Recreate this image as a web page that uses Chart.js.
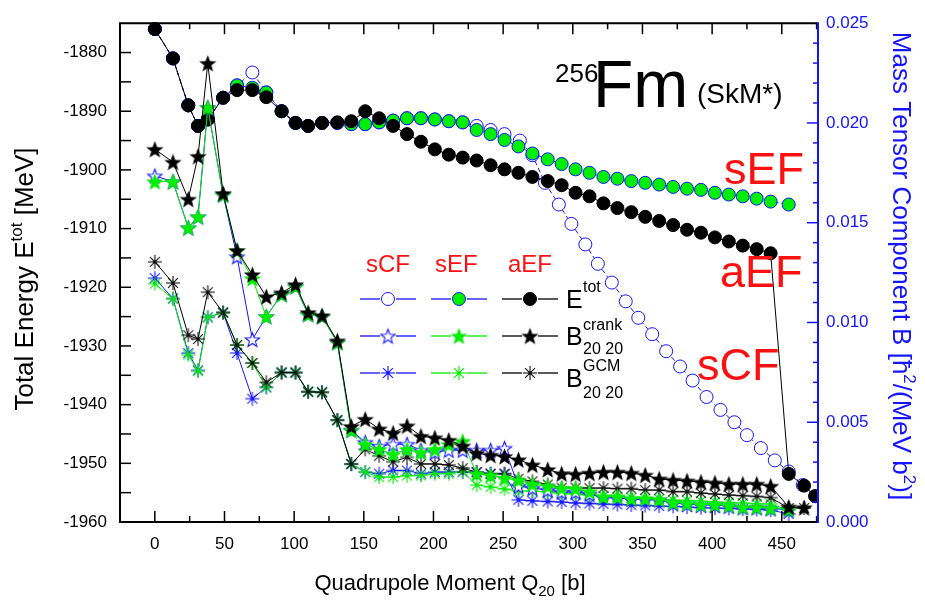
<!DOCTYPE html>
<html>
<head>
<title>256Fm total energy and mass tensor</title>
<script src="https://cdn.jsdelivr.net/npm/chart.js@4.4.0/dist/chart.umd.min.js"></script>
<style>
  body { margin: 0; background: #fff; }
  .wrapper { width: 925px; height: 607px; }
</style>
</head>
<body>
<div class="wrapper"><canvas id="myChart" width="925" height="607"></canvas></div>
<script>
// axis tick labels
var xTicks = [0, 50, 100, 150, 200, 250, 300, 350, 400, 450];
var eTicks = [-1960, -1950, -1940, -1930, -1920, -1910, -1900, -1890, -1880];
var bTicks = [0, 0.005, 0.010, 0.015, 0.020, 0.025];

// Q20 grid shared by most curves
var q = [0, 13, 24, 31, 38, 49, 59, 70, 80, 91, 101, 110, 120, 131, 141, 151, 161, 171, 181, 191,
  201, 211, 221, 231, 241, 251, 261, 271, 282, 292, 302, 312, 322, 332, 342, 352, 362, 372, 382, 392,
  402, 412, 422, 432, 442, 455, 466, 474];
// sCF total energy has a slightly denser tail
var qScf = [0, 13, 24, 31, 38, 49, 59, 70, 80, 91, 101, 110, 120, 131, 141, 151, 161, 171, 181, 191,
  201, 211, 221, 231, 241, 251, 262, 271, 280, 290, 299, 309, 318, 328, 338, 347, 357, 367, 377, 386,
  396, 406, 416, 425, 435, 445, 455, 465, 474];

// total energy [MeV] (left axis)
var eScf = [-1876, -1881, -1889, -1892.5, -1891.4, -1887.7, -1885.6, -1883.4, -1886.8, -1890,
  -1892, -1892.5, -1892, -1892, -1892.2, -1892.2, -1891.9, -1891.6, -1891.2, -1891.2,
  -1891.4, -1891.7, -1891.9, -1892.5, -1893.2, -1893.9, -1895.0, -1897.5, -1902.2, -1905.9,
  -1909.2, -1912.7, -1916.0, -1919.2, -1922.4, -1925.2, -1928.0, -1930.9, -1933.5, -1935.9,
  -1938.7, -1940.9, -1943.0, -1945.2, -1947.4, -1949.5, -1951.4, -1953.7, -1955.6];
var eSef = [-1876, -1881, -1889, -1892.5, -1891.4, -1887.7, -1885.6, -1886.0, -1886.8, -1890,
  -1892, -1892.5, -1892, -1892, -1892.2, -1892.2, -1891.9, -1891.6, -1891.2, -1891.2,
  -1891.4, -1891.7, -1891.9, -1893.2, -1893.9, -1894.9, -1896.0, -1897.2, -1898.2, -1899.0,
  -1899.9, -1900.5, -1901.2, -1901.5, -1901.9, -1902.2, -1902.5, -1902.9, -1903.2, -1903.4,
  -1903.9, -1904.2, -1904.5, -1904.9, -1905.4, -1905.9, null, null];
var eAef = [-1876, -1881, -1889, -1892.5, -1891.4, -1887.7, -1886.4, -1886.4, -1887.6, -1890,
  -1892, -1892.5, -1892, -1891.9, -1891.7, -1890, -1891.2, -1892.5, -1893.9, -1895.2,
  -1896.5, -1897.4, -1897.9, -1898.4, -1899.2, -1899.9, -1900.5, -1901.2, -1901.9, -1902.6,
  -1903.9, -1904.5, -1905.7, -1906.5, -1907.2, -1908.0, -1908.7, -1909.4, -1910.2, -1910.7,
  -1911.5, -1912.2, -1912.9, -1913.5, -1914.2, -1951.8, -1953.8, -1955.6];

// B20,20 cranking (right axis)
var bCrankScf = [0.01735, 0.01706, 0.01475, 0.0153, 0.02078, 0.0164, 0.0133, 0.00915, 0.0103, 0.0114,
  0.0118, 0.0104, 0.0103, 0.0090, 0.0046, 0.0040, 0.0038, 0.0039, 0.0039, 0.0036,
  0.0035, 0.0036, 0.0036, 0.0036, 0.0036, 0.0037, 0.0018, 0.0017, 0.0016, 0.0015,
  0.0015, 0.0014, 0.00122, 0.0012, 0.00114, 0.00112, 0.0011, 0.00095, 0.0009, 0.00085,
  0.00085, 0.0008, 0.00072, 0.00072, 0.00067, 0.00062, null, null];
var bCrankSef = [0.01706, 0.01706, 0.01475, 0.0153, 0.02078, 0.0164, 0.0136, 0.0122, 0.0103, 0.0114,
  0.0118, 0.0104, 0.0103, 0.0090, 0.0046, 0.00389, 0.00364, 0.0034, 0.00364, 0.00348,
  0.00364, 0.00389, 0.00405, 0.00242, 0.00234, 0.0022, 0.0021, 0.0019, 0.0018, 0.0017,
  0.00167, 0.00152, 0.00127, 0.00127, 0.00118, 0.00118, 0.00113, 0.00098, 0.00093, 0.00088,
  0.00088, 0.00083, 0.00074, 0.00074, 0.00069, 0.00064, null, null];
var bCrankAef = [0.01868, 0.01804, 0.01618, 0.01833, 0.02299, 0.01647, 0.01361, 0.0124, 0.01129, 0.01149,
  0.0119, 0.0105, 0.01034, 0.00908, 0.00479, 0.00515, 0.00467, 0.00446, 0.00482, 0.0043,
  0.00422, 0.0041, 0.00381, 0.00345, 0.00335, 0.00328, 0.00312, 0.00286, 0.00263, 0.00242,
  0.0024, 0.00245, 0.0025, 0.0025, 0.00245, 0.00235, 0.00216, 0.0021, 0.00206, 0.002,
  0.00196, 0.0019, 0.0019, 0.0019, 0.0018, 0.00075, 0.00072, null];

// B20,20 GCM (right axis)
var bGcmScf = [0.01222, 0.0112, 0.00847, 0.0076, 0.01026, 0.0105, 0.00847, 0.00618, 0.00675, 0.00749,
  0.00749, 0.00653, 0.0065, 0.0051, 0.0029, 0.0025, 0.00242, 0.00258, 0.00258, 0.00242,
  0.0025, 0.0025, 0.0025, 0.0025, 0.00242, 0.00242, 0.00111, 0.00106, 0.00103, 0.0010,
  0.00095, 0.00093, 0.0009, 0.00088, 0.00085, 0.00083, 0.0008, 0.00078, 0.00075, 0.00072,
  0.0007, 0.00068, 0.00065, 0.00063, 0.0006, 0.0004, null, null];
var bGcmSef = [0.01195, 0.01119, 0.00838, 0.00756, 0.01026, 0.0105, 0.00887, 0.00797, 0.00675, 0.00749,
  0.00749, 0.00653, 0.0065, 0.0051, 0.0029, 0.0025, 0.00225, 0.00225, 0.00233, 0.00233,
  0.00242, 0.00242, 0.00253, 0.00185, 0.00176, 0.00165, 0.00155, 0.00155, 0.0015, 0.00144,
  0.0014, 0.00135, 0.0013, 0.00125, 0.0012, 0.00118, 0.00115, 0.0011, 0.00108, 0.00105,
  0.001, 0.00098, 0.00095, 0.00092, 0.0009, 0.0006, null, null];
var bGcmAef = [0.01304, 0.01198, 0.00936, 0.00917, 0.01152, 0.0105, 0.00887, 0.00797, 0.007, 0.00749,
  0.00749, 0.00653, 0.0065, 0.00511, 0.00291, 0.00364, 0.00332, 0.00302, 0.00324, 0.00291,
  0.00291, 0.00286, 0.0027, 0.0025, 0.00242, 0.00242, 0.00217, 0.00204, 0.00188, 0.00172,
  0.00172, 0.0017, 0.0017, 0.00167, 0.00167, 0.0016, 0.0016, 0.00152, 0.00152, 0.00145,
  0.0014, 0.00135, 0.00132, 0.00128, 0.00122, 0.0007, 0.0007, null];

var FONT = "'Liberation Sans', Arial, sans-serif";
var BLUE = '#1414ff', GREEN = '#00ee00', BLACK = '#000', RED = '#ff1010';
var CLIP = { left: 9, top: 9, right: 0, bottom: 9 };

function pts(xs, ys) {
  return xs.map(function (x, i) { return { x: x, y: ys[i] }; })
           .filter(function (p) { return p.y !== null; });
}

// Origin style markers
function starImg(fill, stroke, r) {
  var c = document.createElement('canvas');
  var s = Math.ceil(2 * r + 4);
  c.width = s; c.height = s;
  var g = c.getContext('2d');
  g.translate(s / 2, s / 2 + 0.8);
  g.beginPath();
  for (var k = 0; k < 10; k++) {
    var rr = k % 2 ? r * 0.42 : r;
    var a = -Math.PI / 2 + k * Math.PI / 5;
    g.lineTo(rr * Math.cos(a), rr * Math.sin(a));
  }
  g.closePath();
  g.fillStyle = fill; g.fill();
  g.strokeStyle = stroke; g.lineWidth = 1.1; g.stroke();
  return c;
}
function astImg(color, r) {
  var c = document.createElement('canvas');
  var s = Math.ceil(2 * r + 4);
  c.width = s; c.height = s;
  var g = c.getContext('2d');
  g.translate(s / 2, s / 2);
  g.strokeStyle = color; g.lineWidth = 1.1;
  for (var k = 0; k < 4; k++) {
    var a = k * Math.PI / 4;
    g.beginPath();
    g.moveTo(-r * Math.cos(a), -r * Math.sin(a));
    g.lineTo(r * Math.cos(a), r * Math.sin(a));
    g.stroke();
  }
  g.fillStyle = color;
  g.beginPath(); g.arc(0, 0, 1.8, 0, 2 * Math.PI); g.fill();
  return c;
}

var mk = {
  starScf: starImg('#fff', BLUE, 7.5),
  starSef: starImg(GREEN, GREEN, 7.5),
  starAef: starImg(BLACK, BLACK, 7.5),
  astScf: astImg(BLUE, 7),
  astSef: astImg(GREEN, 7),
  astAef: astImg('#111', 7)
};

function circleSet(label, xs, ys, fill, border, line, dash, order) {
  return {
    label: label, data: pts(xs, ys), yAxisID: 'yL', order: order, clip: CLIP,
    borderColor: line, borderWidth: 1, borderDash: dash,
    pointStyle: 'circle', pointRadius: 6.5, pointBorderWidth: 1,
    pointBackgroundColor: fill, pointBorderColor: border, tension: 0
  };
}
function markSet(label, xs, ys, img, line, order) {
  return {
    label: label, data: pts(xs, ys), yAxisID: 'yR', order: order, clip: CLIP,
    borderColor: line, borderWidth: 1, pointStyle: img, pointRadius: 7,
    pointBackgroundColor: line, pointBorderColor: line, tension: 0
  };
}

var datasets = [
  circleSet('E sCF', qScf, eScf, '#fff', BLUE, BLUE, [5, 3], 9),
  circleSet('E sEF', q, eSef, GREEN, BLUE, BLUE, [5, 3], 8),
  circleSet('E aEF', q, eAef, BLACK, BLACK, BLACK, [], 7),
  markSet('GCM sCF', q, bGcmScf, mk.astScf, BLUE, 6),
  markSet('GCM sEF', q, bGcmSef, mk.astSef, GREEN, 5),
  markSet('GCM aEF', q, bGcmAef, mk.astAef, BLACK, 4),
  markSet('crank sCF', q, bCrankScf, mk.starScf, BLUE, 3),
  markSet('crank sEF', q, bCrankSef, mk.starSef, GREEN, 2),
  markSet('crank aEF', q, bCrankAef, mk.starAef, BLACK, 1)
];

function line(ctx, x1, y1, x2, y2) {
  ctx.beginPath(); ctx.moveTo(x1, y1); ctx.lineTo(x2, y2); ctx.stroke();
}
// text with super/subscripts; parts = [[text, size, dy], ...]
function rich(ctx, parts, x, y, rot, center) {
  ctx.save();
  ctx.translate(x, y);
  ctx.rotate(rot || 0);
  ctx.textAlign = 'left';
  ctx.textBaseline = 'alphabetic';
  var w = 0;
  parts.forEach(function (p) { ctx.font = p[1] + 'px ' + FONT; w += ctx.measureText(p[0]).width; });
  var cx = center ? -w / 2 : 0;
  parts.forEach(function (p) {
    ctx.font = p[1] + 'px ' + FONT;
    ctx.fillText(p[0], cx, p[2] || 0);
    cx += ctx.measureText(p[0]).width;
  });
  ctx.restore();
}

var decor = {
  id: 'decor',
  afterDraw: function (chart) {
    var ctx = chart.ctx, a = chart.chartArea;
    var sx = chart.scales.x, yl = chart.scales.yL, yr = chart.scales.yR;
    var v, p, k;
    ctx.save();
    // frame and inward ticks
    ctx.strokeStyle = BLACK; ctx.lineWidth = 2;
    ctx.beginPath();
    ctx.moveTo(a.right, a.top); ctx.lineTo(a.left, a.top);
    ctx.lineTo(a.left, a.bottom); ctx.lineTo(a.right, a.bottom);
    ctx.stroke();
    ctx.lineWidth = 1.5;
    for (v = 0; v <= 475; v += 25) {
      p = sx.getPixelForValue(v);
      var len = v % 50 === 0 ? 11 : 6;
      line(ctx, p, a.bottom, p, a.bottom - len);
      line(ctx, p, a.top, p, a.top + len);
    }
    for (v = -1955; v <= -1880; v += 5) {
      p = yl.getPixelForValue(v);
      line(ctx, a.left, p, a.left + 11, p);
    }
    ctx.strokeStyle = BLUE; ctx.lineWidth = 2;
    line(ctx, a.right, a.top - 1, a.right, a.bottom + 1);
    ctx.lineWidth = 1.5;
    for (k = 1; k < 25; k++) {
      p = yr.getPixelForValue(k / 1000);
      line(ctx, a.right, p, a.right - (k % 5 === 0 ? 11 : 5), p);
    }

    // axis titles
    ctx.fillStyle = BLACK;
    rich(ctx, [['Total Energy E', 26], ['tot', 17, -11], [' [MeV]', 26]], 33, 279, -Math.PI / 2, true);
    rich(ctx, [['Quadrupole Moment Q', 22], ['20', 15, 6], [' [b]', 22]], 450, 590, 0, true);
    ctx.fillStyle = BLUE;
    rich(ctx, [['Mass Tensor Component B [\u0127', 26], ['2', 17, -11], ['/(MeV b', 26], ['2', 17, -11], [')]', 26]],
      893, 266, Math.PI / 2, true);

    // nucleus label
    ctx.fillStyle = BLACK;
    rich(ctx, [['256', 26]], 555, 82);
    rich(ctx, [['Fm', 66]], 593, 107);
    rich(ctx, [['(SkM*)', 28]], 697, 103);

    // curve labels
    ctx.fillStyle = RED;
    rich(ctx, [['sEF', 45]], 724, 184);
    rich(ctx, [['aEF', 45]], 720, 287);
    rich(ctx, [['sCF', 45]], 697, 380);

    // legend
    rich(ctx, [['sCF', 24]], 366, 272);
    rich(ctx, [['sEF', 24]], 435, 272);
    rich(ctx, [['aEF', 24]], 508, 272);
    var cols = [388, 459, 530];
    var rows = [299, 336, 373];
    var lineCols = [[BLUE, BLUE, BLACK], [BLUE, GREEN, BLACK], [BLUE, GREEN, BLACK]];
    var imgs = [null, [mk.starScf, mk.starSef, mk.starAef], [mk.astScf, mk.astSef, mk.astAef]];
    ctx.lineWidth = 1.3;
    for (var r = 0; r < 3; r++) {
      for (var c = 0; c < 3; c++) {
        var cx = cols[c], cy = rows[r];
        ctx.strokeStyle = lineCols[r][c];
        line(ctx, cx - 28, cy, cx - 8, cy);
        line(ctx, cx + 8, cy, cx + 28, cy);
        if (r === 0) {
          ctx.beginPath(); ctx.arc(cx, cy, 6.5, 0, 2 * Math.PI);
          ctx.fillStyle = [ '#fff', GREEN, BLACK ][c]; ctx.fill();
          ctx.strokeStyle = [BLUE, BLUE, BLACK][c]; ctx.lineWidth = 1; ctx.stroke();
          ctx.lineWidth = 1.3;
        } else {
          var im = imgs[r][c];
          ctx.drawImage(im, cx - im.width / 2, cy - im.height / 2);
        }
      }
    }
    ctx.fillStyle = BLACK;
    rich(ctx, [['E', 25]], 566, 308);
    rich(ctx, [['tot', 16]], 583, 292);
    rich(ctx, [['B', 25]], 566, 345);
    rich(ctx, [['crank', 16]], 583, 330);
    rich(ctx, [['20 20', 16]], 583, 354);
    rich(ctx, [['B', 25]], 566, 387);
    rich(ctx, [['GCM', 16]], 583, 371);
    rich(ctx, [['20 20', 16]], 583, 398);
    ctx.restore();
  }
};

function setTicks(list) {
  return function (s) { s.ticks = list.map(function (v) { return { value: v }; }); };
}

Chart.defaults.font.family = FONT;
var canvas = document.getElementById('myChart');
var myChart = new Chart(canvas.getContext('2d'), {
  type: 'line',
  data: { datasets: datasets },
  options: {
    responsive: false,
    animation: false,
    layout: { padding: { top: 11, left: 0, right: 0, bottom: 0 } },
    plugins: { legend: { display: false }, tooltip: { enabled: false } },
    scales: {
      x: {
        type: 'linear', min: -25, max: 476,
        grid: { display: false, drawTicks: false }, border: { display: false },
        ticks: { color: BLACK, font: { size: 17 }, padding: 12, maxRotation: 0, autoSkip: false,
          callback: function (v) { return String(v); } },
        afterBuildTicks: setTicks(xTicks),
        afterFit: function (s) { s.height = 85; }
      },
      yL: {
        type: 'linear', position: 'left', min: -1960, max: -1875,
        grid: { display: false, drawTicks: false }, border: { display: false },
        ticks: { color: BLACK, font: { size: 17 }, padding: 13, autoSkip: false,
          callback: function (v) { return String(v); } },
        afterBuildTicks: setTicks(eTicks),
        afterFit: function (s) { s.width = 120; }
      },
      yR: {
        type: 'linear', position: 'right', min: 0, max: 0.025,
        grid: { display: false, drawTicks: false }, border: { display: false },
        ticks: { color: BLUE, font: { size: 17 }, padding: 8, autoSkip: false,
          callback: function (v) { return v.toFixed(3); } },
        afterBuildTicks: setTicks(bTicks),
        afterFit: function (s) { s.width = 107; }
      }
    }
  },
  plugins: [decor]
});
</script>
</body>
</html>
